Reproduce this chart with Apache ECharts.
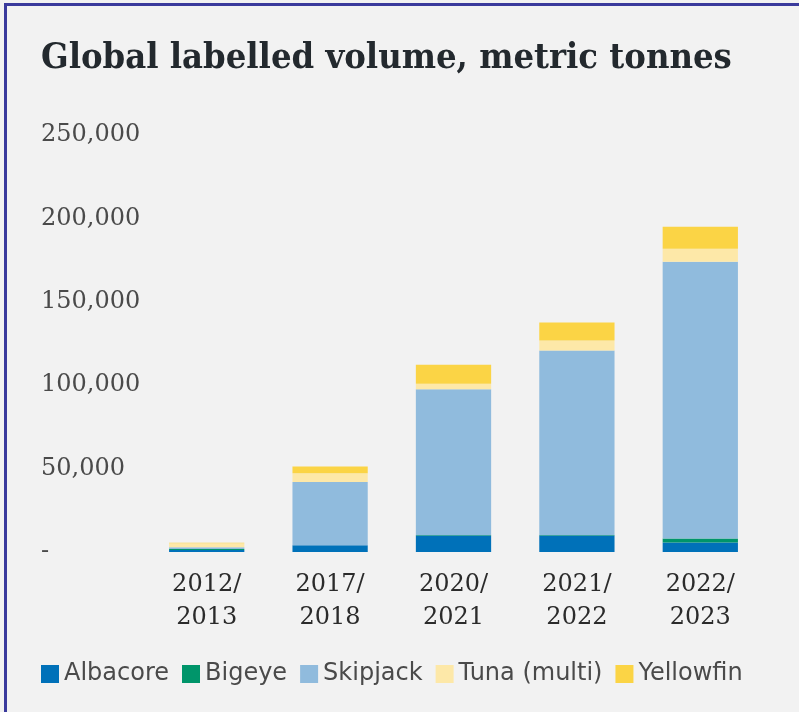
<!DOCTYPE html>
<html>
<head>
<meta charset="utf-8">
<script src="https://cdn.jsdelivr.net/npm/echarts@6/dist/echarts.min.js"></script>
<style>
  html, body { margin: 0; padding: 0; background: #f2f2f2; }
  #frame { position: absolute; left: 0; top: 0; width: 799px; height: 712px; background: #f2f2f2; }
  #edge { position: absolute; left: 4px; top: 3px; right: 0; bottom: 0; border-left: 3px solid #3a3a9c; border-top: 3px solid #3a3a9c; }
  #chart { position: absolute; left: 0; top: 0; width: 799px; height: 712px; }
</style>
</head>
<body>
<div id="frame"><div id="edge"></div><div id="chart"></div></div>
<script>
// Seasons on the x axis (two-line labels)
const seasons = ['2012/\n2013', '2017/\n2018', '2020/\n2021', '2021/\n2022', '2022/\n2023'];

// Labelled volume by species, metric tonnes
const albacore  = [1200, 4000, 9900, 9900, 5700];
const bigeye    = [600, 0, 300, 300, 2400];
const skipjack  = [1000, 38000, 87300, 110600, 165900];
const tunaMulti = [2400, 5200, 3400, 6000, 7800];
const yellowfin = [300, 4000, 11400, 10800, 13200];

// Value axis ticks
const yTicks = [0, 50000, 100000, 150000, 200000, 250000];

const speciesNames  = ['Albacore', 'Bigeye', 'Skipjack', 'Tuna (multi)', 'Yellowfin'];
const speciesValues = [albacore, bigeye, skipjack, tunaMulti, yellowfin];
const speciesColors = ['#0071b9', '#00956a', '#90bbdd', '#fde8a8', '#fbd445'];

const chart = echarts.init(document.getElementById('chart'), null, { renderer: 'canvas' });

chart.setOption({
  backgroundColor: 'transparent',
  animation: false,
  title: {
    text: 'Global labelled volume, metric tonnes',
    left: 36,
    top: 36,
    textStyle: {
      fontFamily: '"DejaVu Serif Condensed", "DejaVu Serif", serif',
      fontWeight: 'bold',
      fontSize: 36,
      color: '#23292e'
    }
  },
  legend: {
    left: 36,
    top: 657,
    itemWidth: 18,
    itemHeight: 18,
    itemGap: 13,
    icon: 'rect',
    data: speciesNames,
    textStyle: {
      fontFamily: '"DejaVu Sans", sans-serif',
      fontSize: 24,
      color: '#4a4a4a'
    }
  },
  grid: { left: 145, right: 37, top: 135, bottom: 160 },
  xAxis: {
    type: 'category',
    data: seasons,
    axisLine: { show: false },
    axisTick: { show: false },
    axisLabel: {
      interval: 0,
      margin: 16,
      fontFamily: '"DejaVu Serif", serif',
      fontSize: 24,
      lineHeight: 33,
      verticalAlign: 'top',
      color: '#2b2b2b'
    }
  },
  yAxis: {
    type: 'value',
    min: yTicks[0],
    max: yTicks[yTicks.length - 1],
    interval: yTicks[1] - yTicks[0],
    splitLine: { show: false },
    axisLine: { show: false },
    axisTick: { show: false },
    axisLabel: {
      align: 'left',
      margin: 104,
      fontFamily: '"DejaVu Serif", serif',
      fontSize: 24,
      color: '#4a4a4a',
      formatter: v => v === 0 ? '-' : v.toLocaleString('en-US')
    }
  },
  series: speciesNames.map((name, i) => ({
    name: name,
    type: 'bar',
    stack: 'volume',
    barWidth: '61%',
    data: speciesValues[i],
    itemStyle: { color: speciesColors[i] }
  }))
});
</script>
</body>
</html>
